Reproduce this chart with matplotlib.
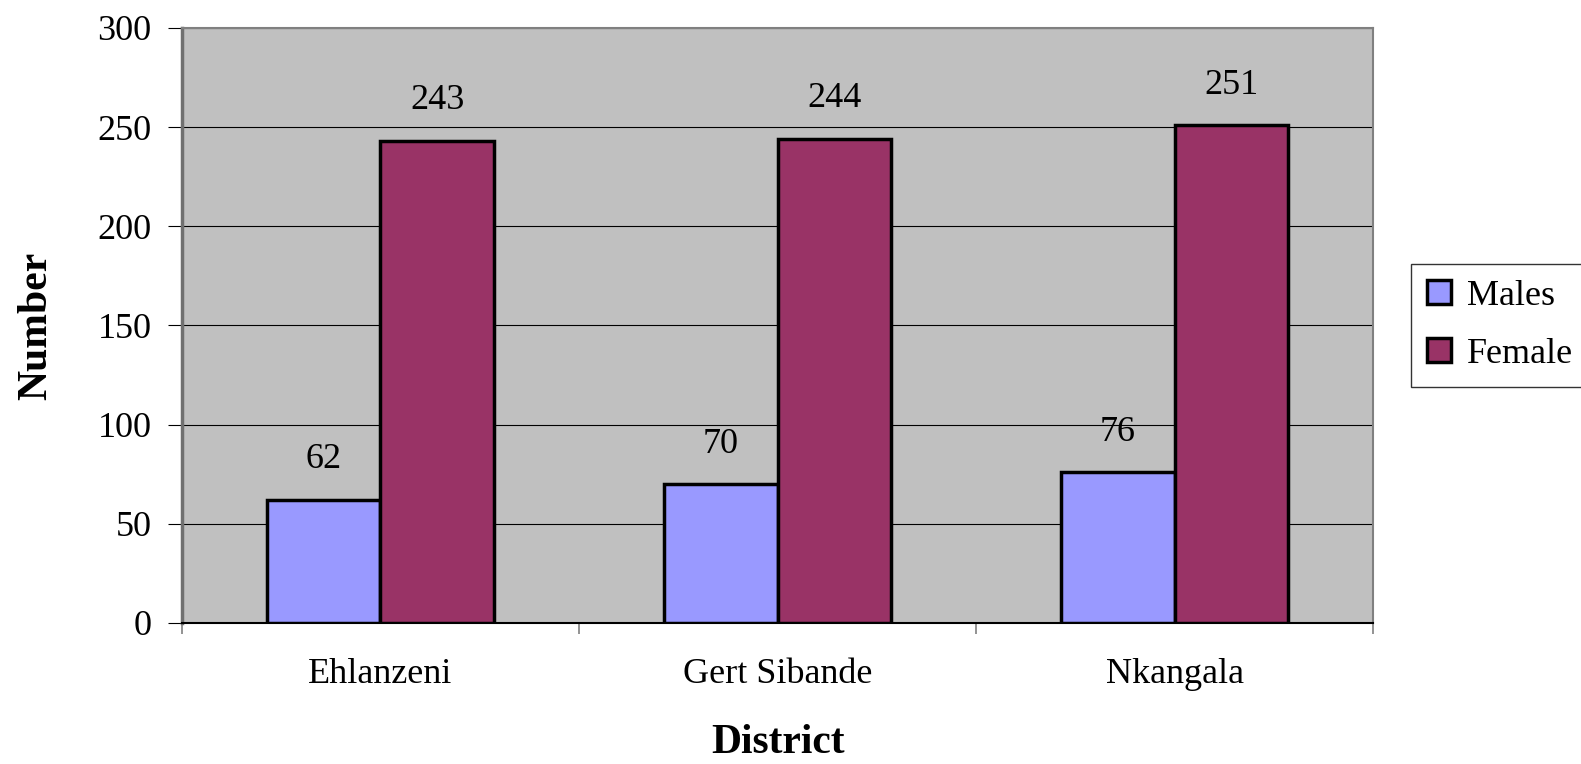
import matplotlib.pyplot as plt
import numpy as np

districts = ["Ehlanzeni", "Gert Sibande", "Nkangala"]
males = [62, 70, 76]
female = [243, 244, 251]

plt.rcParams["font.family"] = ["Liberation Serif", "DejaVu Serif"]

fig = plt.figure(figsize=(15.81, 7.64), dpi=100)
ax = fig.add_axes([0.1151, 0.1846, 0.7534, 0.7788])
ax.set_facecolor("#C0C0C0")

x = np.arange(len(districts))
w = 1 / 3.5
b1 = ax.bar(x - w / 2, males, w, color="#9999FF", edgecolor="black",
            linewidth=2.5, label="Males", zorder=3)
b2 = ax.bar(x + w / 2, female, w, color="#993366", edgecolor="black",
            linewidth=2.5, label="Female", zorder=3)

for bars in (b1, b2):
    for rect in bars:
        h = rect.get_height()
        ax.annotate(f"{h:g}", (rect.get_x() + rect.get_width() / 2, h),
                    xytext=(0, 17), textcoords="offset points",
                    ha="center", va="bottom", fontsize=26)

ax.set_ylim(0, 300)
ax.set_xlim(-0.5, 2.5)
ax.set_yticks(range(0, 301, 50))
ax.yaxis.grid(True, color="black", linewidth=0.8, zorder=0)
ax.set_axisbelow(True)

ax.set_xticks(x)
ax.set_xticklabels(districts)
ax.set_xticks([-0.5, 0.5, 1.5, 2.5], minor=True)
ax.tick_params(axis="x", which="major", length=0, pad=25, labelsize=26)
ax.tick_params(axis="x", which="minor", length=8, color="#808080", width=1.2)
ax.tick_params(axis="y", length=10, pad=12, labelsize=26, color="black")

for side in ("top", "right"):
    ax.spines[side].set_color("#808080")
    ax.spines[side].set_linewidth(1.5)
ax.spines["left"].set_color("#707070")
ax.spines["left"].set_linewidth(2.5)
ax.spines["bottom"].set_color("black")
ax.spines["bottom"].set_linewidth(1.5)

ax.set_xlabel("District", fontsize=30, fontweight="bold", labelpad=24)
ax.set_ylabel("Number", fontsize=30, fontweight="bold", labelpad=30)

leg = ax.legend(loc="center left", bbox_to_anchor=(1.032, 0.50), fontsize=26,
                frameon=True, fancybox=False, edgecolor="black",
                handlelength=0.65, handleheight=0.65, handletextpad=0.45,
                borderpad=0.45, labelspacing=0.7, borderaxespad=0)
leg.get_frame().set_linewidth(1.0)

fig.savefig("out.png", dpi=100)
